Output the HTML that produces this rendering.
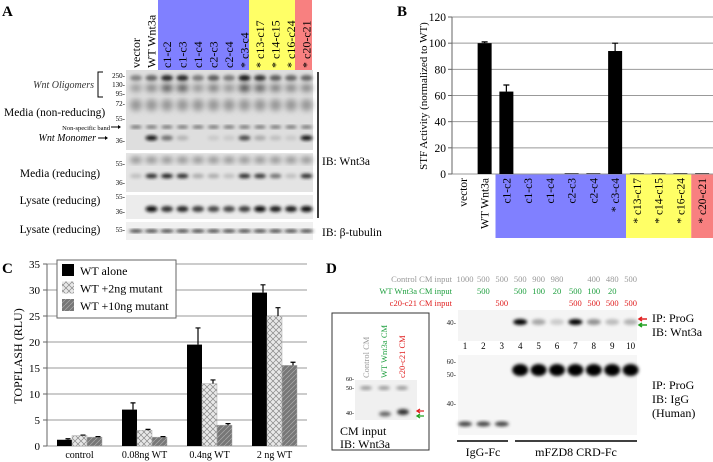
<!DOCTYPE html>
<html><head><meta charset="utf-8"><style>
body{margin:0;background:#fff}
svg{display:block;font-family:"Liberation Serif",serif}
</style></head><body>
<svg id="fig" width="713" height="462" viewBox="0 0 713 462">
<defs>
<filter id="bl" x="-50%" y="-50%" width="200%" height="200%"><feGaussianBlur stdDeviation="1.6"/></filter>
<filter id="bl2" x="-50%" y="-50%" width="200%" height="200%"><feGaussianBlur stdDeviation="3"/></filter>
<pattern id="cross" width="6" height="6" patternUnits="userSpaceOnUse"><rect width="6" height="6" fill="#e8e8e8"/><path d="M0,0L6,6M6,0L0,6" stroke="#888" stroke-width="0.7"/></pattern>
<pattern id="diag" width="5" height="5" patternUnits="userSpaceOnUse"><rect width="5" height="5" fill="#777"/><path d="M0,5L5,0" stroke="#aaa" stroke-width="0.7"/></pattern>
</defs>

<!-- PANEL A -->
<g>
<text x="2" y="16" font-weight="bold" font-size="15">A</text>
<rect x="158" y="0" width="91" height="70" fill="#8080ff"/>
<rect x="249" y="0" width="46" height="70" fill="#ffff66"/>
<rect x="295" y="0" width="17" height="70" fill="#f88080"/>
<g id="laneLabelsA" font-size="12"></g>
<rect x="126" y="70" width="187" height="80" fill="#dedede"/>
<rect x="126" y="153" width="187" height="39" fill="#e4e4e4"/>
<rect x="126" y="195" width="187" height="24" fill="#ececec"/>
<rect x="126" y="222" width="187" height="18" fill="#f0f0f0"/>
<g id="bandsA"></g>
<line x1="318" y1="72" x2="318" y2="218" stroke="#000" stroke-width="1.5"/>
<text x="322" y="165" font-size="11.5">IB: Wnt3a</text>
<text x="322" y="236" font-size="11.5">IB: β-tubulin</text>
<g font-size="7" text-anchor="end">
<text x="125" y="78">250-</text><text x="125" y="87">130-</text><text x="125" y="96">95-</text><text x="125" y="106">72-</text><text x="125" y="121">55-</text><text x="125" y="143">36-</text>
<text x="125" y="166">55-</text><text x="125" y="185">36-</text><text x="125" y="199">55-</text><text x="125" y="214">36-</text><text x="125" y="232">55-</text>
</g>
<text x="94" y="88" font-size="10" font-style="italic" text-anchor="end" fill="#333">Wnt Oligomers</text>
<path d="M103,72H98V97H103" fill="none" stroke="#000"/>
<text x="4" y="116" font-size="11.5">Media (non-reducing)</text>
<text x="110" y="130" font-size="6.5" text-anchor="end">Non-specific band</text>
<path d="M111,127H120" stroke="#000"/><path d="M118,125L121,127L118,129" fill="#000"/>
<text x="96" y="141" font-size="10" font-style="italic" text-anchor="end">Wnt Monomer</text>
<path d="M98,138H107" stroke="#000"/><path d="M105,136L108,138L105,140" fill="#000"/>
<text x="60" y="177" font-size="11.5" text-anchor="middle">Media (reducing)</text>
<text x="60" y="204" font-size="11.5" text-anchor="middle">Lysate (reducing)</text>
<text x="60" y="233" font-size="11.5" text-anchor="middle">Lysate (reducing)</text>
</g>

<!-- PANEL B -->
<g>
<text x="397" y="16" font-weight="bold" font-size="15">B</text>
<g id="chartB"></g>
</g>

<!-- PANEL C -->
<g>
<text x="2" y="273" font-weight="bold" font-size="15">C</text>
<g id="chartC"></g>
</g>

<!-- PANEL D -->
<g>
<text x="326" y="273" font-weight="bold" font-size="15">D</text>
<g id="dRows" font-size="8.5"></g>
<rect x="458" y="310" width="179" height="31" fill="#f4f4f4"/>
<rect x="458" y="355" width="179" height="80" fill="#f6f6f6"/>
<g id="bandsD"></g>
<g font-size="7" text-anchor="end" fill="#222">
<text x="456" y="325">40-</text><text x="456" y="364">60-</text><text x="456" y="377">50-</text><text x="456" y="406">40-</text>
</g>
<path d="M647,319H640M642,317L639,319L642,321" stroke="#e02020" fill="none" stroke-width="1.5"/>
<path d="M647,325H640M642,323L639,325L642,327" stroke="#20a020" fill="none" stroke-width="1.5"/>
<g font-size="12">
<text x="652" y="322">IP: ProG</text><text x="652" y="336">IB: Wnt3a</text>
<text x="652" y="389">IP: ProG</text><text x="652" y="403">IB: IgG</text><text x="652" y="417">(Human)</text>
</g>
<line x1="457" y1="441" x2="508" y2="441" stroke="#000" stroke-width="1.5"/>
<line x1="515" y1="441" x2="637" y2="441" stroke="#000" stroke-width="1.5"/>
<text x="483" y="456" font-size="12" text-anchor="middle">IgG-Fc</text>
<text x="576" y="456" font-size="12" text-anchor="middle">mFZD8 CRD-Fc</text>
<rect x="332" y="313" width="97" height="137" fill="#fff" stroke="#333"/>
<g font-size="8.5">
<text transform="translate(369,378) rotate(-90)" fill="#999">Control CM</text>
<text transform="translate(387,378) rotate(-90)" fill="#20a040">WT Wnt3a CM</text>
<text transform="translate(405,378) rotate(-90)" fill="#e02020">c20-c21 CM</text>
</g>
<rect x="355" y="380" width="62" height="40" fill="#f0f0f0"/>
<ellipse cx="366" cy="388" rx="6" ry="2" fill="#999" filter="url(#bl)"/>
<ellipse cx="384" cy="388" rx="6" ry="2" fill="#999" filter="url(#bl)"/>
<ellipse cx="402" cy="388" rx="6" ry="2" fill="#999" filter="url(#bl)"/>
<ellipse cx="385" cy="414" rx="6" ry="2.5" fill="#666" filter="url(#bl)"/>
<ellipse cx="403" cy="412" rx="6" ry="3" fill="#333" filter="url(#bl)"/>
<g font-size="6" text-anchor="end"><text x="354" y="381">60-</text><text x="354" y="390">50-</text><text x="354" y="415">40-</text></g>
<path d="M424,411H418M420,409L417,411L420,413" stroke="#e02020" fill="none" stroke-width="1.3"/>
<path d="M424,416H418M420,414L417,416L420,418" stroke="#20a020" fill="none" stroke-width="1.3"/>
<text x="340" y="435" font-size="12">CM input</text>
<text x="340" y="448" font-size="12">IB: Wnt3a</text>
</g>

<script>
var NS="http://www.w3.org/2000/svg";
function mk(p,t,a,txt){var e=document.createElementNS(NS,t);for(var k in a)e.setAttribute(k,a[k]);if(txt!==undefined)e.textContent=txt;p.appendChild(e);return e;}

// ---- Panel A lanes ----
var laneNamesA=["vector","WT Wnt3a","c1-c2","c1-c3","c1-c4","c2-c3","c2-c4","* c3-c4","* c13-c17","* c14-c15","* c16-c24","* c20-c21"];
var monomerA=[0,1,0.5,0.15,0,0.05,0.05,0.7,0.2,0.1,0.05,1];
var mediaRedA=[0.1,0.85,0.9,0.85,0.2,0.2,0.1,0.85,0.8,0.5,0.1,0.85];
var lysateA=[0,1,0.8,0.85,0.75,0.7,0.7,0.75,1,0.9,0.9,1];
var oligoA=[0.4,0.55,0.85,0.85,0.45,0.6,0.45,0.95,0.8,0.6,0.55,0.55];
var gA=document.getElementById('laneLabelsA'),bA=document.getElementById('bandsA');
laneNamesA.forEach(function(n,i){
  var cx=136+i*15.5;
  var t=mk(gA,'text',{transform:'translate('+(cx+4)+',68) rotate(-90)'},n);
  
  
  function band(y,rx,ry,v,f){if(v<=0)return;var c=Math.round(210-200*v);mk(bA,'ellipse',{cx:cx,cy:y,rx:rx,ry:ry,fill:'rgb('+c+','+c+','+c+')',filter:f||'url(#bl)'});}
  band(78,6,3,oligoA[i]);band(88,6,4,oligoA[i]*0.7,'url(#bl2)');band(105,6,6,0.3,'url(#bl2)');
  band(127,6,1.5,0.55);band(138,6,2.5,monomerA[i]);
  band(160,6,3,0.4,'url(#bl2)');band(176,6,2.3,mediaRedA[i]);
  band(209,6,3,lysateA[i]);band(231,7,1.5,0.85);
});

// ---- Panel B ----
var catsB=["vector","WT Wnt3a","c1-c2","c1-c3","c1-c4","c2-c3","c2-c4","c3-c4","c13-c17","c14-c15","c16-c24","c20-c21"];
var starB=[0,0,0,0,0,0,0,1,1,1,1,1];
var valsB=[0,100,63,0,0,0.5,0.5,94,0.5,0.5,0.5,0.5];
var errB=[0,1,5,0,0,0,0,6,0,0,0,0];
var ticksB=[0,20,40,60,80,100,120];
(function(){
  var g=document.getElementById('chartB');
  var x0=452,x1=713,y0=174,y1=17,ymax=120;
  function Y(v){return y0-(v/ymax)*(y0-y1);}
  var bw=(x1-x0)/catsB.length;
  function X(i){return x0+bw*(i+0.5);}
  mk(g,'rect',{x:x0+bw*2,y:y0,width:bw*6,height:64,fill:'#8080ff'});
  mk(g,'rect',{x:x0+bw*8,y:y0,width:bw*3,height:64,fill:'#ffff66'});
  mk(g,'rect',{x:x0+bw*11,y:y0,width:bw,height:64,fill:'#f88080'});
  ticksB.forEach(function(t){
    var l=mk(g,'line',{x1:x0,x2:x1,y1:Y(t),y2:Y(t),stroke:'#999','stroke-width':1});
    
    
    mk(g,'line',{x1:x0-4,x2:x0,y1:Y(t),y2:Y(t),stroke:'#666'});
    var tx=mk(g,'text',{x:x0-6,y:Y(t)+4,'font-size':11.5,'text-anchor':'end'},t);
    
    
  });
  mk(g,'line',{x1:x0,x2:x0,y1:y1,y2:y0,stroke:'#666'});
  catsB.forEach(function(c,i){
    var v=valsB[i];
    if(v>0){
      var r=mk(g,'rect',{x:X(i)-7,y:Y(v),width:14,height:y0-Y(v),fill:'#000'});
      
      
    }
    if(errB[i]>0){mk(g,'path',{d:'M'+X(i)+','+Y(v)+'V'+Y(v+errB[i])+'M'+(X(i)-3)+','+Y(v+errB[i])+'H'+(X(i)+3),stroke:'#000','stroke-width':1.2});}
    var t=mk(g,'text',{transform:'translate('+(X(i)+4)+',178) rotate(-90)','font-size':11.5,'text-anchor':'end'},(starB[i]?'* ':'')+c);
    
    
  });
  var yt=mk(g,'text',{transform:'translate(427,96) rotate(-90)','font-size':11,'text-anchor':'middle'},'STF Activity (normalized to WT)');
  
  
})();

// ---- Panel C ----
var catsC=["control","0.08ng WT","0.4ng WT","2 ng WT"];
var aloneC=[1.2,7,19.5,29.5];
var mut2C=[2,3,12,25];
var mut10C=[1.7,1.7,4,15.5];
var errAloneC=[0.2,1.3,3.2,1.5];
var err2C=[0.1,0.2,0.7,1.6];
var err10C=[0.1,0.1,0.3,0.6];
var ticksC=[0,5,10,15,20,25,30,35];
(function(){
  var g=document.getElementById('chartC');
  var x0=47,x1=307,y0=446,y1=264,ymax=35;
  function Y(v){return y0-(v/ymax)*(y0-y1);}
  var gw=(x1-x0)/catsC.length;
  ticksC.forEach(function(t){
    mk(g,'line',{x1:x0,x2:x1,y1:Y(t),y2:Y(t),stroke:'#999'});
    mk(g,'line',{x1:x0-4,x2:x0,y1:Y(t),y2:Y(t),stroke:'#666'});
    var tx=mk(g,'text',{x:x0-7,y:Y(t)+4,'font-size':11,'text-anchor':'end'},t);
    
    
  });
  mk(g,'line',{x1:x0,x2:x0,y1:y1,y2:y0,stroke:'#666'});
  var series=[[aloneC,errAloneC,'#000'],[mut2C,err2C,'url(#cross)'],[mut10C,err10C,'url(#diag)']];
  catsC.forEach(function(c,i){
    var gx=x0+gw*i+gw/2;
    series.forEach(function(s,j){
      var v=s[0][i],bx=gx-22.5+j*15;
      var r=mk(g,'rect',{x:bx,y:Y(v),width:15,height:y0-Y(v),fill:s[2],stroke:j?'#aaa':'none','stroke-width':0.5});
      
      
      var e=s[1][i],cx=bx+11;
      mk(g,'path',{d:'M'+cx+','+Y(v)+'V'+Y(v+e)+'M'+(cx-2.5)+','+Y(v+e)+'H'+(cx+2.5),stroke:'#000','stroke-width':1.2});
    });
    var t=mk(g,'text',{x:gx,y:458,'font-size':10,'text-anchor':'middle'},c);
    
    
  });
  var lg=mk(g,'g',{});
  
  
  mk(lg,'rect',{x:57,y:260,width:119,height:58,fill:'#fff',stroke:'#666'});
  var names=['WT alone','WT +2ng mutant','WT +10ng mutant'];
  names.forEach(function(n,j){
    mk(lg,'rect',{x:62,y:264+j*17.5,width:12,height:12,fill:series[j][2]});
    var t=mk(lg,'text',{x:80,y:275+j*17.5,'font-size':12},n);
    
    
  });
  var yt=mk(g,'text',{transform:'translate(22,356) rotate(-90)','font-size':12,'text-anchor':'middle'},'TOPFLASH (RLU)');
  
  
})();

// ---- Panel D ----
var laneNumsD=["1","2","3","4","5","6","7","8","9","10"];
var controlD=["1000","500","500","500","900","980","","400","480","500"];
var wtD=["","500","","500","100","20","500","100","20",""];
var c20D=["","","500","","","","500","500","500","500"];
var wntBandD=[0,0,0,1,0.25,0.08,1,0.35,0.15,0.2];
var fzdBandD=[0,0,0,1,1,1,1,1,1,1];
var iggBandD=[0.7,0.7,0.7,0,0,0,0,0,0,0];
(function(){
  var g=document.getElementById('dRows'),b=document.getElementById('bandsD');
  function X(i){return 465+i*18.4;}
  [["Control CM input",controlD,"#999",282],["WT Wnt3a CM input",wtD,"#20a040",294],["c20-c21 CM input",c20D,"#e02020",306]].forEach(function(r){
    var l=mk(g,'text',{x:452,y:r[3],fill:r[2],'text-anchor':'end'},r[0]);
    
    
    r[1].forEach(function(v,i){if(v)mk(g,'text',{x:X(i),y:r[3],fill:r[2],'text-anchor':'middle'},v);});
  });
  laneNumsD.forEach(function(n,i){
    var t=mk(g,'text',{x:X(i),y:349,'text-anchor':'middle','font-size':9},n);
    
    
    function band(y,rx,ry,v){if(v<=0)return;var c=Math.round(220-215*v);mk(b,'ellipse',{cx:X(i),cy:y,rx:rx,ry:ry,fill:'rgb('+c+','+c+','+c+')',filter:'url(#bl)'});}
    band(322,7,3,wntBandD[i]);band(370,8,6,fzdBandD[i]);band(424,7,2.5,iggBandD[i]);
  });
})();
</script>
</svg>
</body></html>
